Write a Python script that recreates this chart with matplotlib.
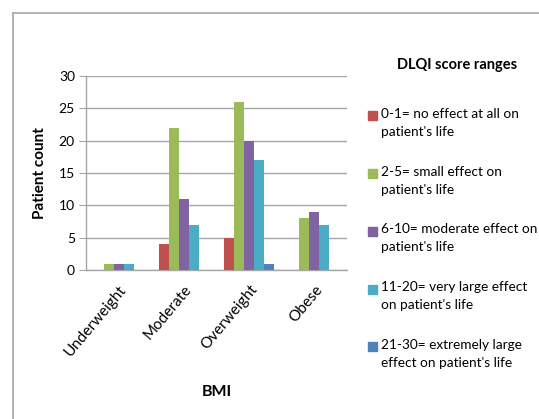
import numpy as np
import matplotlib.pyplot as plt
from matplotlib.lines import Line2D
from matplotlib.patches import Rectangle

plt.rcParams['font.family'] = ['Lato', 'DejaVu Sans']

# BMI groups and patient counts per DLQI score range
bmi_groups = ['Underweight', 'Moderate', 'Overweight', 'Obese']
score_ranges = [
    "0-1= no effect at all on\npatient's life",
    "2-5= small effect on\npatient's life",
    "6-10= moderate effect on\npatient's life",
    "11-20= very large effect\non patient's life",
    "21-30= extremely large\neffect on patient's life",
]
counts_0_1 = [0, 4, 5, 0]
counts_2_5 = [1, 22, 26, 8]
counts_6_10 = [1, 11, 20, 9]
counts_11_20 = [1, 7, 17, 7]
counts_21_30 = [0, 0, 1, 0]
colors = ['#C0504D', '#9BBB59', '#8064A2', '#4BACC6', '#4F81BD']

series = [counts_0_1, counts_2_5, counts_6_10, counts_11_20, counts_21_30]

W, H = 539, 419
fig = plt.figure(figsize=(W / 100, H / 100), dpi=100)
ax = fig.add_axes([86 / W, 1 - 270 / H, (347 - 86) / W, (270 - 76) / H])

x = np.arange(len(bmi_groups))
w = 1 / 6.5
for i, (vals, c) in enumerate(zip(series, colors)):
    ax.bar(x + (i - 2) * w, vals, width=w, color=c, zorder=3)

ax.set_xlim(-0.5, 3.5)
ax.set_ylim(0, 30)
ax.set_yticks(range(0, 31, 5))
ax.grid(axis='y', color='#A6A6A6', linewidth=1.0, zorder=0)
for s in ['top', 'right']:
    ax.spines[s].set_visible(False)
for s in ['left', 'bottom']:
    ax.spines[s].set_color('#A6A6A6')
    ax.spines[s].set_linewidth(1.0)
ax.tick_params(axis='y', length=5, color='#A6A6A6', labelsize=10, pad=3)
ax.tick_params(axis='x', length=0, labelsize=11, pad=9)
ax.set_xticks(x)
ax.set_xticklabels(bmi_groups, rotation=50, ha='right', rotation_mode='anchor')

ax.set_ylabel('Patient count', fontsize=11, fontweight='bold')
ax.yaxis.set_label_coords(-(86 - 47) / (347 - 86), 0.5)
ax.set_xlabel('BMI', fontsize=11.5, fontweight='bold')
ax.xaxis.set_label_coords(0.5, -(392 - 270) / (270 - 76))
ax.xaxis.label.set_va('center')

# legend drawn by hand so the swatch sits on the first text line
fig.text(457 / W, 1 - 65 / H, 'DLQI score ranges', ha='center', va='center',
         fontsize=10.5, fontweight='bold')
for i, (lab, c) in enumerate(zip(score_ranges, colors)):
    yc = 116 + i * 57.7
    fig.add_artist(Rectangle((368 / W, 1 - (yc + 4.5) / H), 9 / W, 9 / H,
                             transform=fig.transFigure, color=c))
    fig.text(381 / W, 1 - (yc - 8) / H, lab, ha='left', va='top',
             fontsize=9.8, linespacing=1.6)

# outer frame lines (left and top)
fig.add_artist(Line2D([13 / W, 13 / W], [0, 1 - 13 / H], color='#A6A6A6', lw=1.2))
fig.add_artist(Line2D([13 / W, 1], [1 - 13 / H, 1 - 13 / H], color='#A6A6A6', lw=1.2))

fig.savefig('out.png', dpi=100)
